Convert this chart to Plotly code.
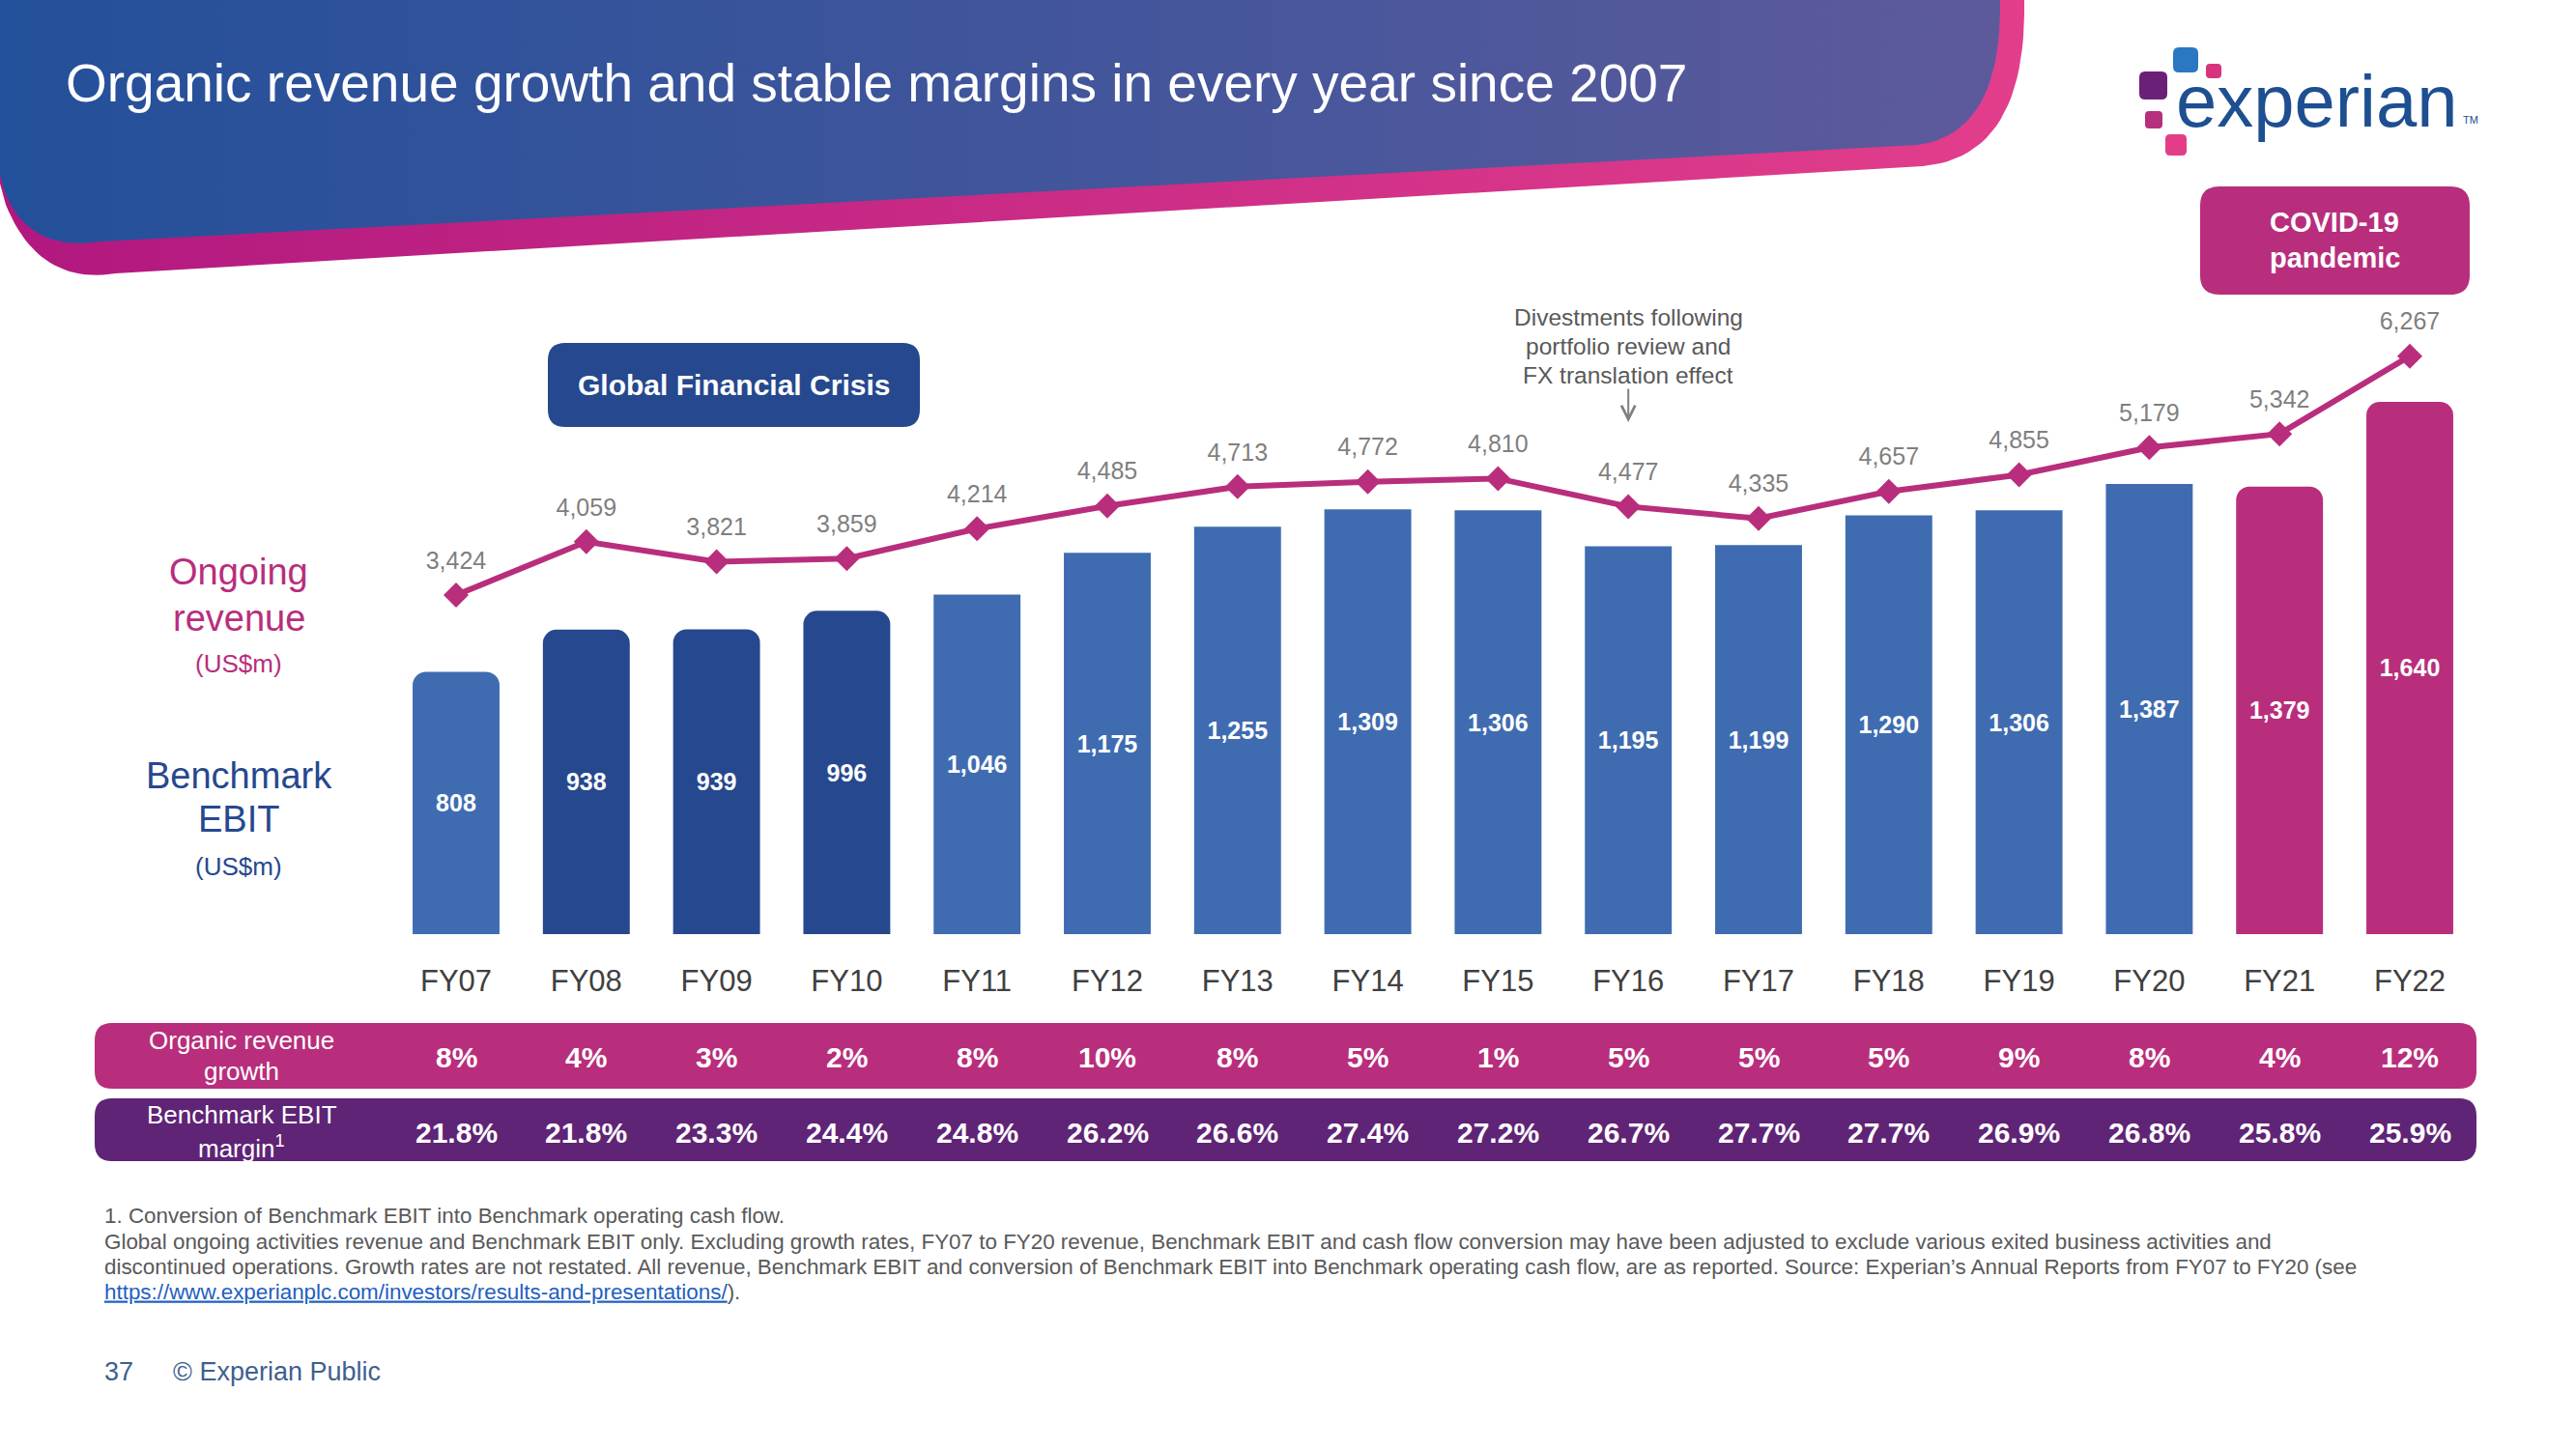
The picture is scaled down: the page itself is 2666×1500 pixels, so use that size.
import plotly.graph_objects as go

# ---------------- data ----------------
fiscal_years = ["FY07", "FY08", "FY09", "FY10", "FY11", "FY12", "FY13", "FY14",
                "FY15", "FY16", "FY17", "FY18", "FY19", "FY20", "FY21", "FY22"]
ongoing_revenue = [3424, 4059, 3821, 3859, 4214, 4485, 4713, 4772,
                   4810, 4477, 4335, 4657, 4855, 5179, 5342, 6267]
benchmark_ebit = [808, 938, 939, 996, 1046, 1175, 1255, 1309,
                  1306, 1195, 1199, 1290, 1306, 1387, 1379, 1640]
organic_growth_pct = [8, 4, 3, 2, 8, 10, 8, 5, 1, 5, 5, 5, 9, 8, 4, 12]
ebit_margin_pct = [21.8, 21.8, 23.3, 24.4, 24.8, 26.2, 26.6, 27.4,
                   27.2, 26.7, 27.7, 27.7, 26.9, 26.8, 25.8, 25.9]
period = ["Pre-crisis", "Global Financial Crisis", "Global Financial Crisis",
          "Global Financial Crisis", "Recovery", "Recovery", "Recovery", "Recovery",
          "Recovery", "Recovery", "Recovery", "Recovery", "Recovery", "Recovery",
          "COVID-19 pandemic", "COVID-19 pandemic"]

title_text = "Organic revenue growth and stable margins in every year since 2007"
divest_note = ["Divestments following", "portfolio review and", "FX translation effect"]
footnotes = [
    "1. Conversion of Benchmark EBIT into Benchmark operating cash flow.",
    "Global ongoing activities revenue and Benchmark EBIT only. Excluding growth rates, FY07 to FY20 revenue, Benchmark EBIT and cash flow conversion may have been adjusted to exclude various exited business activities and",
    "discontinued operations. Growth rates are not restated. All revenue, Benchmark EBIT and conversion of Benchmark EBIT into Benchmark operating cash flow, are as reported. Source: Experian\u2019s Annual Reports from FY07 to FY20 (see",
]
link_url = "https://www.experianplc.com/investors/results-and-presentations/"

# ---------------- style ----------------
W, H = 2666, 1500
FONT = "Liberation Sans, Arial, sans-serif"
LIGHT = "#3f6cb1"
DARK = "#26488e"
MAGENTA = "#b82e7c"
PURPLE = "#5f2476"
GREY = "#7f7f7f"
period_colors = {"Pre-crisis": LIGHT, "Global Financial Crisis": DARK,
                 "Recovery": LIGHT, "COVID-19 pandemic": MAGENTA}
rounded_years = {"FY07", "FY08", "FY09", "FY10", "FY21", "FY22"}

fig = go.Figure()


def qbez(p0, p1, p2, n=24):
    pts = []
    for i in range(n + 1):
        t = i / n
        x = (1 - t) ** 2 * p0[0] + 2 * (1 - t) * t * p1[0] + t ** 2 * p2[0]
        y = (1 - t) ** 2 * p0[1] + 2 * (1 - t) * t * p1[1] + t ** 2 * p2[1]
        pts.append((x, y))
    return pts


def header_shape(pts, c0, c1):
    xs = [p[0] for p in pts] + [pts[0][0]]
    ys = [p[1] for p in pts] + [pts[0][1]]
    fig.add_trace(go.Scatter(
        x=xs, y=ys, xaxis="x3", yaxis="y3", mode="lines", fill="toself",
        line=dict(width=0, color="rgba(0,0,0,0)"),
        fillgradient=dict(type="horizontal", colorscale=[[0, c0], [1, c1]]),
        hoverinfo="skip", showlegend=False))


# magenta under-band
mag = [(0, 0), (2095, 0)] + qbez((2095, 0), (2098, 162), (1990, 172)) \
    + qbez((120, 283), (40, 296), (6, 212)) + [(0, 190)]
header_shape(mag, "#b1187f", "#e23e8c")
# blue header
blue = [(0, 0), (2070, 0)] + qbez((2070, 0), (2072, 138), (1985, 150)) \
    + qbez((105, 250), (28, 262), (4, 196)) + [(0, 180)]
header_shape(blue, "#23509a", "#5d5a9c")

# ---------------- bars ----------------
bar_colors = [period_colors[p] for p in period]
for rounded in (True, False):
    vals = [v if ((fy in rounded_years) == rounded) else None
            for fy, v in zip(fiscal_years, benchmark_ebit)]
    fig.add_trace(go.Bar(
        x=fiscal_years, y=vals,
        marker=dict(color=bar_colors, cornerradius=14 if rounded else 0, line=dict(width=0)),
        text=[f"{v:,}" if v is not None else "" for v in vals],
        textposition="inside", insidetextanchor="middle", textangle=0,
        insidetextfont=dict(family=FONT, size=25, color="white", weight="bold"),
        hoverinfo="skip", showlegend=False))

# ---------------- revenue line ----------------
fig.add_trace(go.Scatter(
    x=fiscal_years, y=ongoing_revenue, yaxis="y2", mode="lines+markers",
    line=dict(color=MAGENTA, width=6),
    marker=dict(symbol="diamond", size=20, color=MAGENTA),
    hoverinfo="skip", showlegend=False))
fig.add_trace(go.Scatter(
    x=fiscal_years, y=ongoing_revenue, yaxis="y2", mode="markers+text",
    marker=dict(size=32, opacity=0),
    text=[f"{v:,}" for v in ongoing_revenue], textposition="top center",
    textfont=dict(family=FONT, size=25, color=GREY),
    hoverinfo="skip", showlegend=False))

# ---------------- shapes ----------------
def rrect(x0, y0, x1, y1, r):
    return (f"M{x0+r},{y0} L{x1-r},{y0} Q{x1},{y0} {x1},{y0+r} L{x1},{y1-r} "
            f"Q{x1},{y1} {x1-r},{y1} L{x0+r},{y1} Q{x0},{y1} {x0},{y1-r} "
            f"L{x0},{y0+r} Q{x0},{y0} {x0+r},{y0} Z")


shapes = []


def add_rrect(x0, y0, x1, y1, r, color):
    shapes.append(dict(type="path", xref="x3", yref="y3", path=rrect(x0, y0, x1, y1, r),
                       fillcolor=color, line=dict(width=0), layer="below"))


add_rrect(567, 355, 952, 442, 18, DARK)          # GFC box
add_rrect(2277, 193, 2556, 305, 20, MAGENTA)     # COVID box
add_rrect(98, 1059, 2563, 1127, 18, MAGENTA)     # organic growth row
add_rrect(98, 1137, 2563, 1202, 18, PURPLE)      # EBIT margin row
# logo squares
add_rrect(2249, 49, 2275, 75, 6, "#2a78c2")
add_rrect(2283, 66, 2299, 81, 4, "#d8337f")
add_rrect(2214, 74, 2243, 103, 6, "#6b2077")
add_rrect(2220, 115, 2238, 133, 4, "#b5307d")
add_rrect(2241, 139, 2263, 161, 5, "#e23d86")

# ---------------- annotations ----------------
ann = []


def txt(x, y, text, size, color, bold=False, xanchor="center", xref="x3", yref="y3",
        height=None):
    a = dict(x=x, y=y, xref=xref, yref=yref, text=text, showarrow=False,
             xanchor=xanchor, yanchor="middle",
             font=dict(family=FONT, size=size, color=color,
                       weight="bold" if bold else "normal"))
    if height is not None:
        a["height"] = height
    ann.append(a)


txt(66, 86, title_text, 55, "white", xanchor="left")
txt(2250, 104, "experian", 76, "#1d4f91", xanchor="left")
txt(2547, 124, "TM", 11, "#1d4f91", xanchor="left")
txt(759, 398, "Global Financial Crisis", 30, "white", bold=True)
txt(2416, 230, "COVID-19", 29, "white", bold=True, height=34)
txt(2416, 267, "pandemic", 29, "white", bold=True, height=34)

for i, line in enumerate(divest_note):
    txt("FY16", 328 + i * 30, line, 24.5, "#595959", xref="x", height=29)
ann.append(dict(x="FY16", y=437, xref="x", yref="y3", text="", showarrow=True,
                ax=0, ay=-36, arrowhead=5, arrowsize=1.4, arrowwidth=2, arrowcolor="#808080"))

txt(247, 592, "Ongoing", 38, MAGENTA, height=46)
txt(247, 640, "revenue", 38, MAGENTA, height=46)
txt(247, 687, "(US$m)", 26, MAGENTA, height=34)
txt(247, 803, "Benchmark", 38, DARK, height=44)
txt(247, 848, "EBIT", 38, DARK, height=44)
txt(247, 897, "(US$m)", 26, DARK, height=34)

txt(250, 1077, "Organic revenue", 26, "white")
txt(250, 1109, "growth", 26, "white")
txt(250, 1154, "Benchmark EBIT", 26, "white")
txt(250, 1187, "margin<sup>1</sup>", 26, "white")

for fy, g, m in zip(fiscal_years, organic_growth_pct, ebit_margin_pct):
    txt(fy, 1094, f"{g}%", 30, "white", bold=True, xref="x")
    txt(fy, 1172, f"{m:.1f}%", 30, "white", bold=True, xref="x")

for i, line in enumerate(footnotes):
    txt(106, 1258 + i * 26.5, line, 22.4, "#595959", xanchor="left", height=26)
txt(106, 1337, f"<span style='color:#1f5fbf'><u>{link_url}</u></span>).", 22.4, "#595959",
    xanchor="left", height=26)
txt(106, 1420, "37", 27, "#3f5f8f", xanchor="left")
txt(177, 1420, "\u00a9 Experian Public", 27, "#3f5f8f", xanchor="left")

# ---------------- layout ----------------
px_bottom, px_top = 967, 295
y_dom = [1 - px_bottom / H, 1 - px_top / H]
x_dom = [404.6 / W, 2561.4 / W]
ebit_px_per_unit = 0.336
rev_px_per_unit = 0.087
rev_at_bottom = ongoing_revenue[0] - (px_bottom - 616) / rev_px_per_unit

fig.update_layout(
    width=W, height=H, margin=dict(l=0, r=0, t=0, b=0),
    paper_bgcolor="white", plot_bgcolor="rgba(0,0,0,0)",
    barmode="overlay", bargap=0.333, showlegend=False, hovermode=False,
    font=dict(family=FONT),
    xaxis=dict(domain=x_dom, type="category", categoryorder="array",
               categoryarray=fiscal_years, range=[-0.5, len(fiscal_years) - 0.5],
               showgrid=False, zeroline=False,
               showline=False, ticks="", ticklabelstandoff=27,
               tickfont=dict(family=FONT, size=31, color="#404040"), anchor="y"),
    yaxis=dict(domain=y_dom, range=[0, (px_bottom - px_top) / ebit_px_per_unit],
               visible=False, anchor="x"),
    yaxis2=dict(overlaying="y", anchor="x",
                range=[rev_at_bottom, rev_at_bottom + (px_bottom - px_top) / rev_px_per_unit],
                visible=False),
    xaxis3=dict(domain=[0, 1], range=[0, W], visible=False, anchor="y3", fixedrange=True),
    yaxis3=dict(domain=[0, 1], range=[H, 0], visible=False, anchor="x3", fixedrange=True),
    shapes=shapes, annotations=ann,
)

fig.write_html("out.html")
